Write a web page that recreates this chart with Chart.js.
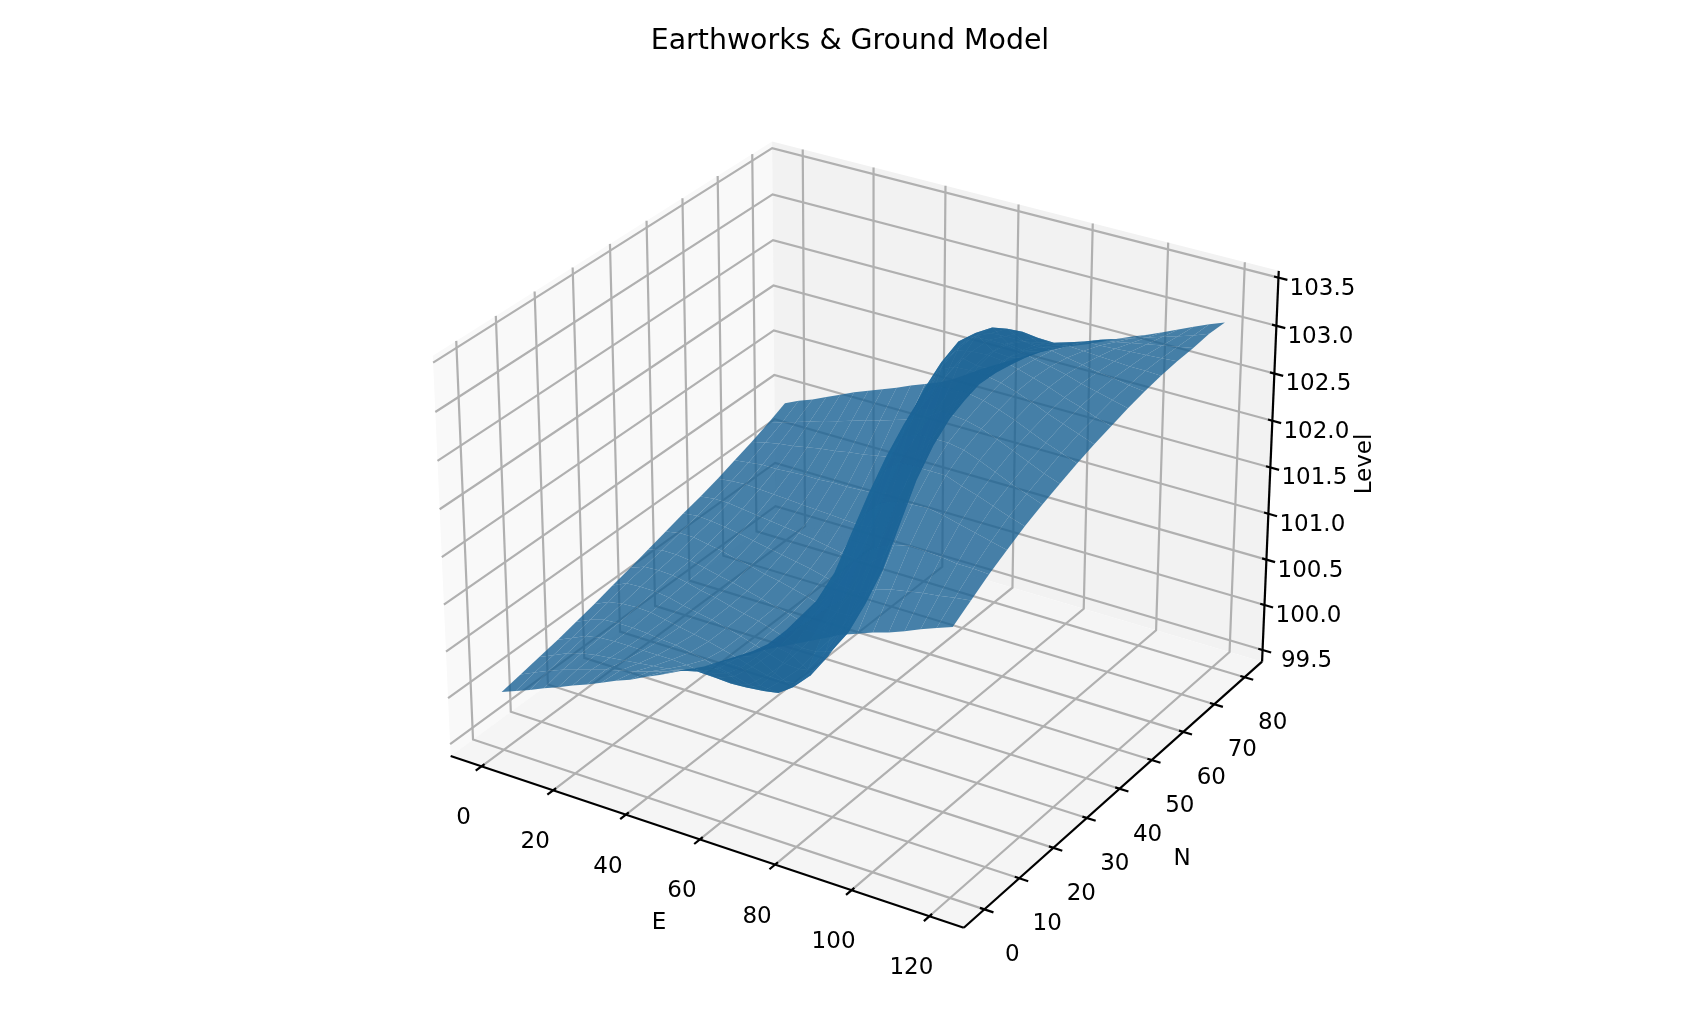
<!DOCTYPE html>
<html>
<head>
<meta charset="utf-8">
<title>Earthworks & Ground Model</title>
<script src="https://cdn.jsdelivr.net/npm/chart.js@4"></script>
<style>
  html, body { margin: 0; padding: 0; background: #fff; overflow: hidden; }
  canvas { display: block; }
</style>
</head>
<body>
<canvas id="ground" width="1700" height="1020"></canvas>
<script>
const eastTicks = [0, 20, 40, 60, 80, 100, 120];
const northTicks = [0, 10, 20, 30, 40, 50, 60, 70, 80];
const levelTicks = [99.5, 100, 100.5, 101, 101.5, 102, 102.5, 103, 103.5];
const levelTickLabels = ["99.5", "100.0", "100.5", "101.0", "101.5", "102.0", "102.5", "103.0", "103.5"];

const eastings = [0,4,8,12,16,20,24,28,32,36,40,44,48,52,56,60,64,68,72,76,80,84,88,92,96,100,104,108,112,116,120];
const northings = [0,5,10,15,20,25,30,35,40,45,50,55,60,65,70,75,80];
// ground levels, one row per northing
const levels = [
  [100.00,100.06,100.12,100.19,100.25,100.32,100.38,100.45,100.52,100.58,100.66,100.73,100.81,100.89,100.97,101.06,101.15,101.24,101.34,101.42,101.50,101.58,101.66,101.74,101.80,101.86,101.91,101.97,102.04,102.10,102.16],
  [100.04,100.11,100.18,100.24,100.29,100.34,100.39,100.43,100.47,100.52,100.57,100.63,100.70,100.78,100.88,100.98,101.08,101.20,101.33,101.47,101.62,101.78,101.92,102.01,102.10,102.15,102.18,102.21,102.23,102.26,102.28],
  [100.08,100.15,100.22,100.27,100.30,100.32,100.34,100.36,100.38,100.40,100.44,100.47,100.50,100.55,100.66,100.82,101.00,101.20,101.40,101.60,101.82,102.05,102.23,102.34,102.41,102.45,102.44,102.43,102.41,102.41,102.40],
  [100.12,100.19,100.26,100.29,100.30,100.30,100.30,100.30,100.30,100.29,100.27,100.25,100.24,100.25,100.32,100.50,100.76,101.06,101.38,101.75,102.16,102.44,102.60,102.66,102.68,102.69,102.66,102.62,102.58,102.54,102.50],
  [100.17,100.24,100.29,100.30,100.30,100.29,100.27,100.26,100.23,100.20,100.16,100.12,100.08,100.06,100.09,100.20,100.44,100.86,101.43,102.00,102.45,102.74,102.87,102.88,102.88,102.88,102.82,102.77,102.71,102.65,102.60],
  [100.22,100.29,100.32,100.33,100.32,100.29,100.26,100.23,100.20,100.16,100.12,100.07,100.03,100.02,100.05,100.18,100.48,101.02,101.66,102.25,102.70,102.95,103.02,103.03,103.03,103.00,102.94,102.87,102.80,102.74,102.68],
  [100.28,100.35,100.36,100.36,100.34,100.30,100.27,100.24,100.20,100.16,100.11,100.06,100.01,100.00,100.03,100.24,100.60,101.19,101.87,102.49,102.90,103.10,103.14,103.14,103.12,103.08,103.02,102.95,102.88,102.81,102.75],
  [100.33,100.39,100.40,100.39,100.36,100.32,100.29,100.25,100.21,100.18,100.13,100.08,100.03,100.04,100.09,100.36,100.85,101.51,102.18,102.73,103.07,103.20,103.22,103.22,103.19,103.14,103.08,103.01,102.94,102.88,102.82],
  [100.39,100.43,100.43,100.41,100.38,100.34,100.31,100.27,100.23,100.19,100.15,100.10,100.08,100.06,100.15,100.51,101.12,101.83,102.48,102.95,103.20,103.27,103.28,103.27,103.24,103.19,103.13,103.06,103.00,102.94,102.88],
  [100.45,100.48,100.48,100.45,100.42,100.38,100.35,100.31,100.28,100.24,100.20,100.15,100.13,100.14,100.32,100.76,101.39,102.10,102.70,103.10,103.27,103.30,103.31,103.29,103.25,103.20,103.15,103.09,103.04,102.98,102.93],
  [100.51,100.53,100.52,100.50,100.47,100.44,100.41,100.38,100.35,100.32,100.28,100.24,100.22,100.26,100.54,101.08,101.76,102.41,102.92,103.19,103.28,103.29,103.29,103.26,103.22,103.19,103.15,103.10,103.06,103.02,102.98],
  [100.56,100.58,100.58,100.56,100.54,100.52,100.50,100.48,100.46,100.43,100.40,100.38,100.39,100.52,100.89,101.44,102.06,102.60,102.98,103.15,103.19,103.20,103.20,103.20,103.18,103.15,103.12,103.09,103.07,103.04,103.02],
  [100.62,100.64,100.65,100.64,100.63,100.62,100.61,100.60,100.59,100.58,100.57,100.59,100.64,100.82,101.24,101.76,102.26,102.68,102.96,103.08,103.11,103.12,103.10,103.08,103.10,103.09,103.08,103.07,103.06,103.06,103.05],
  [100.69,100.71,100.73,100.73,100.74,100.75,100.75,100.76,100.76,100.77,100.78,100.82,100.94,101.17,101.48,101.82,102.16,102.46,102.66,102.78,102.85,102.88,102.92,102.97,103.02,103.02,103.03,103.04,103.05,103.06,103.07],
  [100.76,100.80,100.83,100.85,100.88,100.91,100.93,100.96,100.98,101.01,101.04,101.09,101.21,101.42,101.64,101.88,102.10,102.30,102.47,102.58,102.66,102.72,102.78,102.84,102.91,102.93,102.96,102.99,103.02,103.05,103.08],
  [100.84,100.89,100.94,100.99,101.04,101.08,101.13,101.18,101.22,101.27,101.32,101.38,101.48,101.62,101.78,101.95,102.09,102.22,102.34,102.44,102.53,102.60,102.66,102.72,102.79,102.84,102.89,102.94,102.99,103.04,103.10],
  [100.93,101.00,101.06,101.13,101.20,101.27,101.33,101.39,101.45,101.52,101.58,101.64,101.72,101.82,101.92,102.01,102.10,102.19,102.28,102.35,102.42,102.48,102.55,102.62,102.69,102.75,102.82,102.89,102.96,103.03,103.09]
];

// view, same as the 3d box the reference uses
const azim = -58 * Math.PI / 180, elev = 28 * Math.PI / 180, dist = 10;
const eLim = [-8.75, 128.75], nLim = [-5.83, 85.83], zLim = [99.37, 103.57];
const boxHalf = [0.595, 0.595, 0.4433];
const pxPerUnit = 5050, centerX = 863, centerY = 514.4;

const U = [-Math.sin(azim), Math.cos(azim), 0];
const W = [Math.cos(elev) * Math.cos(azim), Math.cos(elev) * Math.sin(azim), Math.sin(elev)];
const V = [W[1] * U[2] - W[2] * U[1], W[2] * U[0] - W[0] * U[2], W[0] * U[1] - W[1] * U[0]];
const dot = (a, b) => a[0] * b[0] + a[1] * b[1] + a[2] * b[2];

function toBox(e, n, z) {
  return [
    ((e - eLim[0]) / (eLim[1] - eLim[0]) * 2 - 1) * boxHalf[0],
    ((n - nLim[0]) / (nLim[1] - nLim[0]) * 2 - 1) * boxHalf[1],
    ((z - zLim[0]) / (zLim[1] - zLim[0]) * 2 - 1) * boxHalf[2]
  ];
}
function project(e, n, z) {
  const p = toBox(e, n, z);
  const d = dist - dot(p, W);
  return { x: dot(p, U) / d, y: dot(p, V) / d };
}
const depth = (e, n, z) => dot(toBox(e, n, z), W);

const datasets = [];
function addPoly(corners, color) {
  const pts = corners.map(c => project(c[0], c[1], c[2]));
  pts.push(pts[0]);
  datasets.push({ data: pts, showLine: true, fill: "shape", backgroundColor: color, borderWidth: 0, borderColor: "transparent", pointRadius: 0, tension: 0, clip: false });
}
function addLine(corners, color, width) {
  datasets.push({ data: corners.map(c => project(c[0], c[1], c[2])), showLine: true, fill: false, borderColor: color, borderWidth: width, pointRadius: 0, tension: 0, clip: false, borderCapStyle: "butt" });
}

const [e0, e1] = eLim, [n0, n1] = nLim, [z0, z1] = zLim;
addPoly([[e0, n0, z0], [e0, n1, z0], [e0, n1, z1], [e0, n0, z1]], "#f9f9f9");
addPoly([[e0, n1, z0], [e1, n1, z0], [e1, n1, z1], [e0, n1, z1]], "#f2f2f2");
addPoly([[e0, n0, z0], [e1, n0, z0], [e1, n1, z0], [e0, n1, z0]], "#f5f5f5");

const gridColor = "#b0b0b0", gridWidth = 2.2;
eastTicks.forEach(e => addLine([[e, n0, z0], [e, n1, z0], [e, n1, z1]], gridColor, gridWidth));
northTicks.forEach(n => addLine([[e1, n, z0], [e0, n, z0], [e0, n, z1]], gridColor, gridWidth));
levelTicks.forEach(z => addLine([[e0, n0, z], [e0, n1, z], [e1, n1, z]], gridColor, gridWidth));

addLine([[e0, n0, z0], [e1, n0, z0]], "#000", 2.2);
addLine([[e1, n0, z0], [e1, n1, z0]], "#000", 2.2);
addLine([[e1, n1, z0], [e1, n1, z1]], "#000", 2.2);
const eDelta = (e1 - e0) / 12, nDelta = (n1 - n0) / 12;
eastTicks.forEach(e => addLine([[e, n0 + 0.1 * nDelta, z0], [e, n0 - 0.2 * nDelta, z0]], "#000", 2.2));
northTicks.forEach(n => addLine([[e1 - 0.1 * eDelta, n, z0], [e1 + 0.2 * eDelta, n, z0]], "#000", 2.2));
levelTicks.forEach(z => addLine([[e1 - 0.1 * eDelta, n1, z], [e1 + 0.2 * eDelta, n1, z]], "#000", 2.2));

// ground surface, back to front
const light = [-0.6667, -0.6667, 0.3333];
const quads = [];
for (let j = 0; j < northings.length - 1; j++) {
  for (let i = 0; i < eastings.length - 1; i++) {
    const c = [
      [eastings[i], northings[j], levels[j][i]],
      [eastings[i + 1], northings[j], levels[j][i + 1]],
      [eastings[i + 1], northings[j + 1], levels[j + 1][i + 1]],
      [eastings[i], northings[j + 1], levels[j + 1][i]]
    ];
    const dze = (c[1][2] + c[2][2] - c[0][2] - c[3][2]) / 2 / (eastings[i + 1] - eastings[i]);
    const dzn = (c[3][2] + c[2][2] - c[0][2] - c[1][2]) / 2 / (northings[j + 1] - northings[j]);
    const len = Math.hypot(dze, dzn, 1);
    const shade = (-dze * light[0] - dzn * light[1] + light[2]) / len;
    const f = 0.353 + 0.7 * (shade + 1) / 2;
    const mid = [(c[0][0] + c[2][0]) / 2, (c[0][1] + c[2][1]) / 2, (c[0][2] + c[1][2] + c[2][2] + c[3][2]) / 4];
    quads.push({ c, f, d: depth(mid[0], mid[1], mid[2]) });
  }
}
quads.sort((a, b) => a.d - b.d);
quads.forEach(q => addPoly(q.c, `rgba(${Math.round(31 * q.f)},${Math.round(119 * q.f)},${Math.round(180 * q.f)},0.8)`));

const textLayer = {
  id: "textLayer",
  afterDatasetsDraw(chart) {
    const ctx = chart.ctx, sx = chart.scales.x, sy = chart.scales.y;
    const put = (text, x, y, font, rot) => {
      ctx.save();
      ctx.translate(x, y);
      if (rot) ctx.rotate(rot);
      ctx.font = font;
      ctx.fillStyle = "#000";
      ctx.textAlign = "center";
      ctx.textBaseline = "middle";
      ctx.fillText(text, 0, 0);
      ctx.restore();
    };
    const tickFont = "23px 'DejaVu Sans'";
    const at = (e, n, z) => { const p = project(e, n, z); return [sx.getPixelForValue(p.x), sy.getPixelForValue(p.y)]; };
    eastTicks.forEach(e => { const [x, y] = at(e, n0, z0); put(String(e), x - 18, y + 52, tickFont); });
    northTicks.forEach(n => { const [x, y] = at(e1, n, z0); put(String(n), x + 28, y + 46, tickFont); });
    levelTicks.forEach((z, i) => { const [x, y] = at(e1, n1, z); put(levelTickLabels[i], x + 44, y + 11, tickFont); });
    put("E", 659, 923, tickFont);
    put("N", 1182, 859, tickFont);
    put("Level", 1365, 464, tickFont, -Math.PI / 2);
    put("Earthworks & Ground Model", 850, 42, "28.4px 'DejaVu Sans'");
  }
};

new Chart(document.getElementById("ground").getContext("2d"), {
  type: "scatter",
  data: { datasets: datasets.reverse() },
  options: {
    responsive: false,
    animation: false,
    layout: { padding: 0 },
    events: [],
    plugins: { legend: { display: false }, tooltip: { enabled: false }, title: { display: false } },
    scales: {
      x: { type: "linear", display: false, min: -centerX / pxPerUnit, max: (1700 - centerX) / pxPerUnit },
      y: { type: "linear", display: false, min: -(1020 - centerY) / pxPerUnit, max: centerY / pxPerUnit }
    }
  },
  plugins: [textLayer]
});
</script>
</body>
</html>
